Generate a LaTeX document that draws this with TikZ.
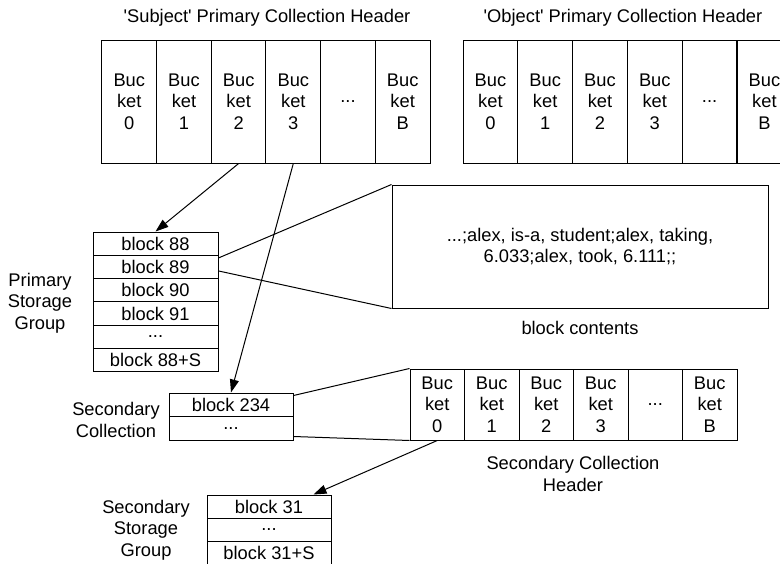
\documentclass[tikz,border=0pt]{standalone}
\usepackage{fontspec}
\setmainfont{Liberation Sans}
\usetikzlibrary{arrows.meta,positioning}
\newcommand{\etcdots}{...}
\newcommand{\sq}{\textquotesingle}

\begin{document}
\begin{tikzpicture}[x=1pt,y=-1pt,line width=1pt,
    font=\fontsize{18.3}{21.5}\selectfont,
    bucket/.style={draw,minimum width=54.7pt,minimum height=123pt,inner sep=0pt,align=center},
    sbucket/.style={bucket,minimum width=54.5pt,minimum height=71pt},
    blk/.style={draw,minimum width=125pt,minimum height=23.3pt,inner sep=0pt},
    ptr/.style={-{Triangle[length=13pt,width=9pt]}}]
  \clip (0,0) rectangle (780,563);
  % primary collection headers
  \node (stitle) at (267,18) {\sq Subject\sq{} Primary Collection Header};
  \node (otitle) at (623,18) {\sq Object\sq{} Primary Collection Header};
  \foreach \t [count=\i from 0] in {{Buc\\ket\\0},{Buc\\ket\\1},{Buc\\ket\\2},{Buc\\ket\\3},{\etcdots},{Buc\\ket\\B}} {
    \node[bucket] (s\i) at ({129.3+54.67*\i},101.5) {\t};
    \node[bucket] (o\i) at ({490.4+54.8*\i},101.5) {\t};
    \node[sbucket] (h\i) at ({437.25+54.5*\i},404.5) {\t};
  }
  % block contents
  \node[draw,minimum width=376pt,minimum height=123pt,align=center] (contents) at (580,246.5)
    {\etcdots;alex, is-a, student;alex, taking,\\6.033;alex, took, 6.111;;};
  \node (clbl) at (580,328) {block contents};
  % primary storage group
  \foreach \t [count=\i from 0] in {block 88,block 89,block 90,block 91,\etcdots,block 88+S}
    \node[blk] (p\i) at (155.5,{243.65+23.3*\i}) {\t};
  \node[align=center] (plbl) at (40,303) {Primary\\Storage\\Group};
  % secondary collection
  \node[blk,minimum width=124pt,minimum height=23.5pt] (sc1) at (231,404.75) {block 234};
  \node[blk,minimum width=124pt,minimum height=23.5pt] (sc2) at (231,428.25) {\etcdots};
  \node[align=center] (sclbl) at (116,420) {Secondary\\Collection};
  \node[align=center] (shlbl) at (573,474) {Secondary Collection\\Header};
  % secondary storage group
  \node[blk,minimum width=124pt] (ss1) at (269,506.65) {block 31};
  \node[blk,minimum width=124pt] (ss2) at (269,529.95) {\etcdots};
  \node[blk,minimum width=124pt] (ss3) at (269,553.25) {block 31+S};
  \node[align=center] (sslbl) at (146,530) {Secondary\\Storage\\Group};
  % pointers
  \draw[ptr] (s2.south) -- (p0.north);
  \draw[ptr] (s3.south) -- (sc1.north);
  \draw ([yshift=9pt]p1.east) -- (contents.north west);
  \draw ([yshift=-4pt]p1.east) -- (contents.south west);
  \draw ([yshift=-3pt]sc1.north east) -- (h0.north west);
  \draw ([yshift=4pt]sc2.south east) -- (h0.south west);
  \draw[ptr] (h0.south) -- ([xshift=-18pt]ss1.north east);
\end{tikzpicture}
\end{document}
